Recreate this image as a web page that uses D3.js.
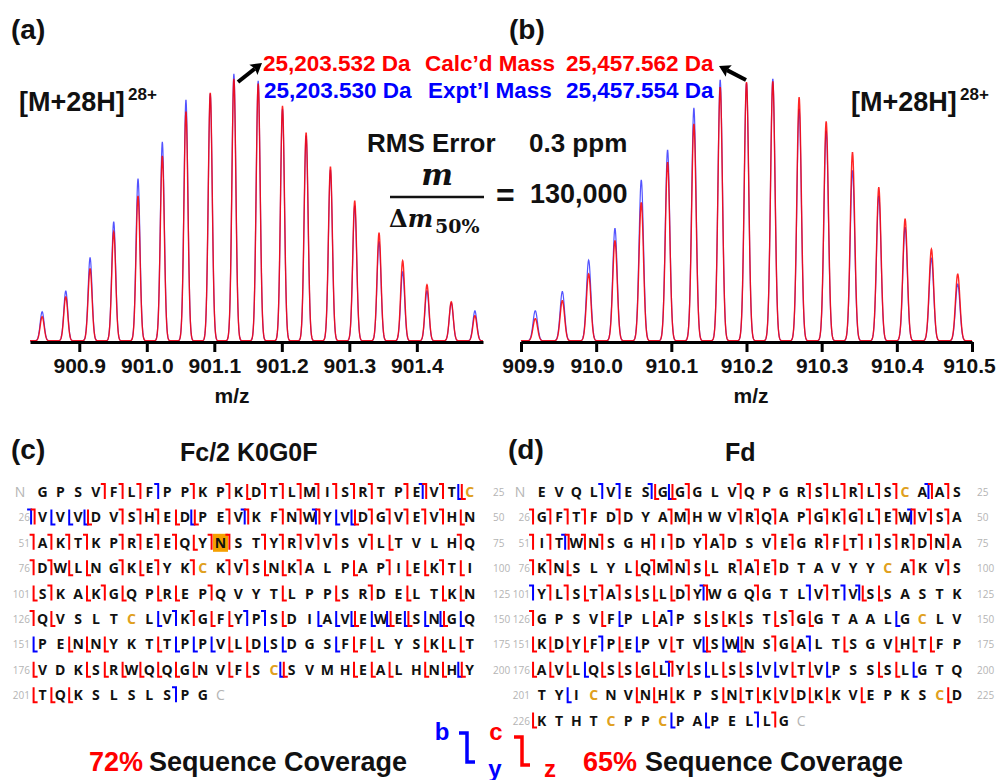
<!DOCTYPE html>
<html>
<head>
<meta charset="utf-8">
<script src="https://cdn.jsdelivr.net/npm/d3@7"></script>
<style>
  body { margin: 0; background: #fff; }
  svg text { font-family: "Liberation Sans", Arial, sans-serif; font-weight: bold; }
  .seq text.res { font-family: "Open Sans", "DejaVu Sans", sans-serif; font-size: 14px; font-weight: 700; }
  .seq text.num { font-family: "Open Sans", "DejaVu Sans", sans-serif; font-size: 10px; font-weight: 400; fill: #b4b4b4; }
</style>
</head>
<body>
<svg id="fig" width="997" height="780"></svg>
<script>
// ---------- isotopic distributions, [M+28H]28+ ----------
// (a) Fc/2 K0G0F: peak apexes (m/z) and relative abundance (%)
const mzA   = [900.845, 900.880, 900.916, 900.951, 900.987, 901.023, 901.058, 901.094, 901.129, 901.165,
               901.201, 901.236, 901.272, 901.308, 901.344, 901.379, 901.415, 901.451, 901.486];
const calcA = [9.0, 16.5, 27.0, 40.8, 54.3, 69.3, 85.8, 92.9, 98.1, 96.3, 88.0, 77.9, 65.2, 52.4, 40.4, 30.0, 21.0, 14.6, 9.4];
const exptA = [10.9, 18.7, 31.1, 44.6, 60.7, 74.5, 90.3, 92.5, 100, 97.4, 86.9, 76.8, 64.0, 50.6, 37.1, 25.8, 18.7, 14.2, 11.2];
const ticksA = [900.9, 901.0, 901.1, 901.2, 901.3, 901.4];
const domainA = [900.827, 901.498];

// (b) Fd
const mzB   = [909.919, 909.955, 909.990, 910.025, 910.060, 910.095, 910.130, 910.165, 910.200, 910.235,
               910.270, 910.306, 910.341, 910.376, 910.411, 910.446, 910.481];
const calcB = [8.5, 15.3, 25.5, 38.2, 52.8, 68.1, 82.8, 96.8, 98.7, 99.0, 93.0, 83.8, 72.0, 58.6, 46.5, 35.0, 25.5];
const exptB = [11.5, 18.8, 30.8, 42.9, 61.4, 72.9, 88.9, 99.6, 98.5, 100, 88.5, 80.2, 65.0, 55.4, 43.3, 31.4, 21.7];
const ticksB = [909.9, 910.0, 910.1, 910.2, 910.3, 910.4, 910.5];
const domainB = [909.9, 910.5];

const resolvingPower = 130000;   // m / Δm50%

// ---------- fragment maps (25 residues per row) ----------
// cut codes: one token per residue = cleavage before that residue
// c/z = red (ETD), b/y = blue (CID); "-" = none
const fcSeq = [
  "GPSVFLFPPKPKDTLMISRTPEVTC",
  "VVVDVSHEDPEVKFNWYVDGVEVHN",
  "AKTKPREEQYNSTYRVVSVLTVLHQ",
  "DWLNGKEYKCKVSNKALPAPIEKTI",
  "SKAKGQPREPQVYTLPPSRDELTKN",
  "QVSLTCLVKGFYPSDIAVEWESNGQ",
  "PENNYKTTPPVLDSDGSFFLYSKLT",
  "VDKSRWQQGNVFSCSVMHEALHNHY",
  "TQKSLSLSPG"
];
const fcCuts = [
  "- - - - c c c b - c - c z c c c c c c c - c cb c zy",
  "cb y y zy - c c c z zy - c cb - c c cb y zy c c c c c z",
  "c c c c - c c c c z c c - c c c c c - c z - - - c",
  "c c z z - c z c - c - c c z z c - - z - c z z c z",
  "z c - z c z - z z - c - - - z - - z - c - z - z z",
  "c z - - - - - y b c z z b b z - y y zy y zy zy y zy y",
  "y - z z z - - z y y y z z y y - - y z z - - z z z",
  "z - - z z z z z z z - z z - zy - - - z z z - z z zy",
  "z z z - - - - - b -"
];
const fcGlyco = 61;   // N-glycosylation site, highlighted

const fdSeq = [
  "EVQLVESGGGLVQPGRSLRLSCAAS",
  "GFTFDDYAMHWVRQAPGKGLEWVSA",
  "ITWNSGHIDYADSVEGRFTISRDNA",
  "KNSLYLQMNSLRAEDTAVYYCAKVS",
  "YLSTASSLDYWGQGTLVTVSSASTK",
  "GPSVFPLAPSSKSTSGGTAALGCLV",
  "KDYFPEPVTVSWNSGALTSGVHTFP",
  "AVLQSSGLYSLSSVVTVPSSSLGTQ",
  "TYICNVNHKPSNTKVDKKVEPKSCD",
  "KTHTCPPCPAPELLG"
];
const fdCuts = [
  "- - - - b b - zb zy c - - c - - - c c c c c c - cb c",
  "c c c c - c - - c c - - c c c - c c c c c c cb c c",
  "c c cb c c - - c c - c c - - c c - c z c c c c c c",
  "c c z - - - z c c c z - c c c - - - - - - - c - c",
  "b c c z c c z z z c cb - - c - - b c b zb z - - - -",
  "c - - - z y - z b - z z z - z c z - - - - y - - -",
  "z z z z b z y - z - zy y zy - c z b - z - - z z z -",
  "z z z y z z z z cb z y z z y y z z y - - z z y - -",
  "- - y - - - z z z - - z z z z z z z - z - - - - z",
  "z - - - - - - - y - y - - b c"
];

const coverage = ["72%", "65%"];
const RED = "#ff0000", BLUE = "#0000ff", CYS = "#e0a020";

const svg = d3.select("#fig");

// ---------- spectrum panels ----------
function profile(mz, ab, x0, x1) {
  const pts = [];
  const step = 0.0004;
  for (let m = x0; m <= x1 + 1e-9; m += step) {
    let v = 0;
    mz.forEach((c, i) => {
      const s = c / resolvingPower / 2.3548;
      v += ab[i] * Math.exp(-0.5 * ((m - c) / s) ** 2);
    });
    pts.push([m, v]);
  }
  return pts;
}

function spectrum(cfg) {
  const x = d3.scaleLinear().domain(cfg.domain).range(cfg.xRange);
  const y = d3.scaleLinear().domain([0, 100]).range(cfg.yRange);
  const line = d3.line().x(d => x(d[0])).y(d => y(d[1]) - 1.2);
  const g = svg.append("g");
  g.append("path").datum(profile(cfg.mz, cfg.expt, cfg.domain[0], cfg.domain[1]))
    .attr("d", line).attr("fill", "none").attr("stroke", "#2828ff")
    .attr("stroke-width", 1.2).attr("stroke-opacity", 0.8);
  g.append("path").datum(profile(cfg.mz, cfg.calc, cfg.domain[0], cfg.domain[1]))
    .attr("d", line).attr("fill", "none").attr("stroke", RED)
    .attr("stroke-width", 1.4).attr("stroke-opacity", 0.85);

  const ax = g.append("g").attr("transform", `translate(0,${cfg.yRange[0]})`)
    .call(d3.axisBottom(x).tickValues(cfg.ticks).tickFormat(d3.format(".1f"))
      .tickSize(10).tickSizeOuter(0).tickPadding(6));
  ax.select(".domain").attr("stroke", "#000").attr("stroke-width", 3);
  ax.selectAll(".tick line").attr("stroke", "#000").attr("stroke-width", 3);
  const n = cfg.ticks.length;
  ax.selectAll(".tick text").attr("fill", "#111").style("font-size", "21px")
    .style("font-family", '"Liberation Sans", Arial, sans-serif').style("font-weight", "bold")
    .attr("dy", "0.71em")
    .attr("dx", (d, i) => cfg.edgeShift ? (i === 0 ? cfg.edgeShift[0] : i === n - 1 ? cfg.edgeShift[1] : 0) : 0);
  g.append("text").attr("x", cfg.titleX).attr("y", 403).attr("text-anchor", "middle")
    .style("font-size", "21px").attr("fill", "#111").text("m/z");
}

spectrum({ mz: mzA, calc: calcA, expt: exptA, ticks: ticksA, domain: domainA,
  xRange: [30, 483], yRange: [342, 75], titleX: 232 });
spectrum({ mz: mzB, calc: calcB, expt: exptB, ticks: ticksB, domain: domainB,
  xRange: [521, 972], yRange: [342, 80], titleX: 751, edgeShift: [7, -3] });

// panel letters
function label(txt, x, y, size, fill, anchor) {
  return svg.append("text").attr("x", x).attr("y", y).attr("text-anchor", anchor || "start")
    .style("font-size", size + "px").attr("fill", fill || "#111").text(txt);
}
label("(a)", 11, 39, 28);
label("(b)", 509, 39, 28);
label("(c)", 11, 459, 28);
label("(d)", 508, 459, 28);

// charge state labels
label("[M+28H]", 19, 111, 27);
label("28+", 128, 100, 17);
label("[M+28H]", 851, 111, 27);
label("28+", 960, 100, 17);

// mass annotation
label("25,203.532 Da", 263, 71, 22.5, RED);
label("Calc\u2019d Mass", 425, 71, 22.5, RED);
label("25,457.562 Da", 566, 71, 22.5, RED);
label("25,203.530 Da", 264, 98, 22.5, BLUE);
label("Expt\u2019l Mass", 428, 98, 22.5, BLUE);
label("25,457.554 Da", 566, 98, 22.5, BLUE);

function arrow(x1, y1, x2, y2) {
  const dx = x2 - x1, dy = y2 - y1, L = Math.hypot(dx, dy);
  const ux = dx / L, uy = dy / L, hl = 11, hw = 6.5;
  const bx = x2 - ux * hl, by = y2 - uy * hl;
  svg.append("line").attr("x1", x1).attr("y1", y1).attr("x2", bx + ux * 2).attr("y2", by + uy * 2)
    .attr("stroke", "#000").attr("stroke-width", 4);
  svg.append("path").attr("d",
    `M${x2},${y2}L${bx - uy * hw},${by + ux * hw}L${bx + ux * 2},${by + uy * 2}L${bx + uy * hw},${by - ux * hw}Z`)
    .attr("fill", "#000");
}
arrow(238, 82, 262, 63);
arrow(746, 80, 719, 66);

// RMS error and resolving power
label("RMS Error", 367, 152, 26);
label("0.3 ppm", 529, 152, 26);
svg.append("text").attr("x", 437).attr("y", 185).attr("text-anchor", "middle")
  .style("font-family", '"DejaVu Serif", serif').style("font-style", "italic")
  .style("font-size", "30px").attr("fill", "#111").text("m");
svg.append("line").attr("x1", 390).attr("x2", 484).attr("y1", 197).attr("y2", 197)
  .attr("stroke", "#111").attr("stroke-width", 2.5);
const den = svg.append("text").attr("x", 389).attr("y", 227)
  .style("font-family", '"DejaVu Serif", serif').attr("fill", "#111").style("font-size", "24px");
den.append("tspan").text("\u0394");
den.append("tspan").style("font-style", "italic").text("m");
svg.append("text").attr("x", 435).attr("y", 233)
  .style("font-family", '"DejaVu Serif", serif').style("font-size", "19px").attr("fill", "#111").text("50%");
label("=", 496, 206, 32);
label("130,000", 530, 203, 27);

// ---------- fragment maps ----------
function bracket(g, x, y, top, bottom, color) {
  let d = "";
  if (top) d += `M${x - 4},${y - 8}L${x},${y - 8}`; else d += `M${x},${y - 8}`;
  d += `L${x},${y + 7}`;
  if (bottom) d += `L${x + 4},${y + 7}`;
  g.append("path").attr("d", d).attr("fill", "none").attr("stroke", color)
    .attr("stroke-width", 2).attr("stroke-linejoin", "miter");
}

function fragmentMap(seq, cuts, cfg) {
  const g = svg.append("g").attr("class", "seq");
  let resNo = 0;
  seq.forEach((row, r) => {
    const y = cfg.y0 + r * cfg.rowStep;
    const tokens = cuts[r].trim().split(/\s+/);
    if (r === 0) {
      g.append("text").attr("class", "num").attr("x", cfg.nX).attr("y", y + 5)
        .attr("text-anchor", "middle").style("font-size", "14px").text("N");
    } else {
      g.append("text").attr("class", "num").attr("x", cfg.leftNum).attr("y", y + 4)
        .attr("text-anchor", "end").text(r * 25 + 1);
    }
    if (row.length === 25) {
      g.append("text").attr("class", "num").attr("x", cfg.rightNum).attr("y", y + 4)
        .text((r + 1) * 25);
    }
    row.split("").forEach((aa, k) => {
      resNo++;
      const x = cfg.x0 + k * cfg.pitch;
      if (cfg.glyco === resNo) {
        g.append("rect").attr("x", x - 7.5).attr("y", y - 9).attr("width", 15).attr("height", 18)
          .attr("fill", "#f5a000");
      }
      g.append("text").attr("class", "res").attr("x", x).attr("y", y + 5)
        .attr("text-anchor", "middle").attr("fill", aa === "C" ? CYS : "#111").text(aa);
      const t = tokens[k] || "-";
      const bx = x - cfg.pitch / 2;
      const hasRed = /[cz]/.test(t), hasBlue = /[by]/.test(t);
      if (hasBlue) bracket(g, bx - (hasRed ? 2.5 : 0), y, t.includes("b"), t.includes("y"), BLUE);
      if (hasRed) bracket(g, bx + (hasBlue ? 1 : 0), y, t.includes("c"), t.includes("z"), RED);
    });
    if (r === seq.length - 1) {
      g.append("text").attr("class", "num").attr("x", cfg.x0 + row.length * cfg.pitch).attr("y", y + 5)
        .attr("text-anchor", "middle").style("font-size", "14px").text("C");
    }
  });
}

fragmentMap(fcSeq, fcCuts, { x0: 42.5, pitch: 17.8, y0: 492, rowStep: 25.4,
  nX: 20, leftNum: 30, rightNum: 493, glyco: fcGlyco });
fragmentMap(fdSeq, fdCuts, { x0: 541.7, pitch: 17.3, y0: 492, rowStep: 25.4,
  nX: 520, leftNum: 530, rightNum: 977, glyco: -1 });

label("Fc/2 K0G0F", 180, 461, 25);
label("Fd", 725, 461, 25);

// ---------- legend and coverage ----------
function legendBracket(x, yTop, yBot, color) {
  svg.append("path").attr("d", `M${x - 8},${yTop}L${x},${yTop}L${x},${yBot}L${x + 8},${yBot}`)
    .attr("fill", "none").attr("stroke", color).attr("stroke-width", 3.5);
}
legendBracket(467, 733, 762, BLUE);
legendBracket(522, 737, 765, RED);
label("b", 442, 740, 24, BLUE, "middle");
label("y", 495, 777, 24, BLUE, "middle");
label("c", 496, 740, 24, RED, "middle");
label("z", 550, 777, 24, RED, "middle");

label(coverage[0], 89, 771, 27, RED);
label("Sequence Coverage", 149, 771, 27);
label(coverage[1], 583, 771, 27, RED);
label("Sequence Coverage", 645, 771, 27);
</script>
</body>
</html>
